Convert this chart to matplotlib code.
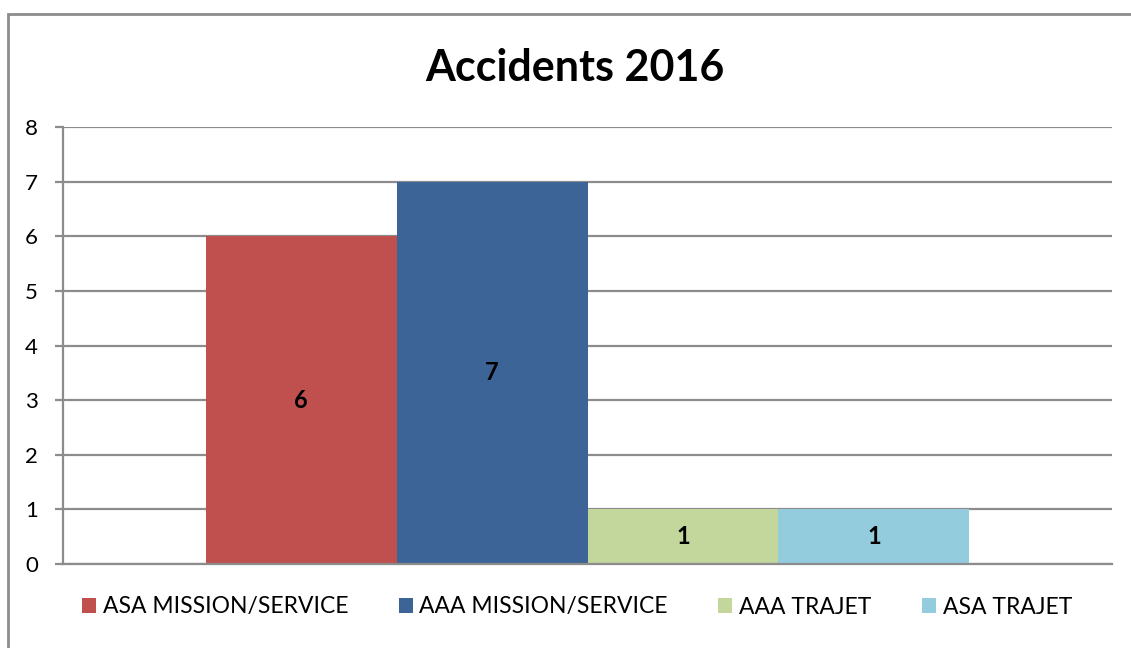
import matplotlib
matplotlib.use("Agg")
import matplotlib.pyplot as plt
from matplotlib.patches import Rectangle, Patch

plt.rcParams['font.family'] = ['Lato', 'DejaVu Sans']

title = "Accidents 2016"
series = ["ASA MISSION/SERVICE", "AAA MISSION/SERVICE", "AAA TRAJET", "ASA TRAJET"]
values = [6, 7, 1, 1]
colors = ["#C0504D", "#3C6496", "#C3D69B", "#93CDDD"]
yticks = [0, 1, 2, 3, 4, 5, 6, 7, 8]

W, H = 1131, 648
fig = plt.figure(figsize=(W / 100, H / 100), dpi=100)
ax = fig.add_axes([63 / W, 1 - 564 / H, (1112 - 63) / W, (564 - 127) / H])

grid_c = "#8C8C8C"
n = len(values)
bw = 0.7283 / n
for i, (v, c) in enumerate(zip(values, colors)):
    x = -0.7283 / 2 + bw * (i + 0.5)
    ax.bar(x, v, width=bw, color=c, zorder=3, linewidth=0)
    ax.text(x, v / 2, str(v), ha='center', va='center', fontsize=17,
            fontweight='bold', color='black', zorder=4)

ax.set_xlim(-0.5, 0.5)
ax.set_ylim(0, 8)
ax.set_yticks(yticks)
ax.set_yticklabels([str(t) for t in yticks], fontsize=16)
ax.set_xticks([])
ax.yaxis.grid(True, color=grid_c, linewidth=1.6, zorder=0)
ax.tick_params(axis='y', length=6, width=1.6, color=grid_c, pad=12)
for s in ['top', 'right']:
    ax.spines[s].set_visible(False)
for s in ['left', 'bottom']:
    ax.spines[s].set_color(grid_c)
    ax.spines[s].set_linewidth(1.6)
    ax.spines[s].set_zorder(5)

fig.text(575 / W, 1 - 68 / H, title, ha='center', va='center', fontsize=31,
         fontweight='bold')

handles = [Patch(facecolor=c, edgecolor='none') for c in colors]
fig.legend(handles, series, loc='center', bbox_to_anchor=(577 / W, 1 - 607 / H),
           ncol=4, frameon=False, fontsize=16.5, handlelength=0.61,
           handleheight=0.61, handletextpad=0.3, columnspacing=2.2)

fig.patches.append(Rectangle((8 / W, -0.1), 1.2, 1 - 14 / H + 0.1,
                             transform=fig.transFigure, fill=False,
                             edgecolor=grid_c, linewidth=2, clip_on=False))

fig.savefig("out.png", dpi=100)
